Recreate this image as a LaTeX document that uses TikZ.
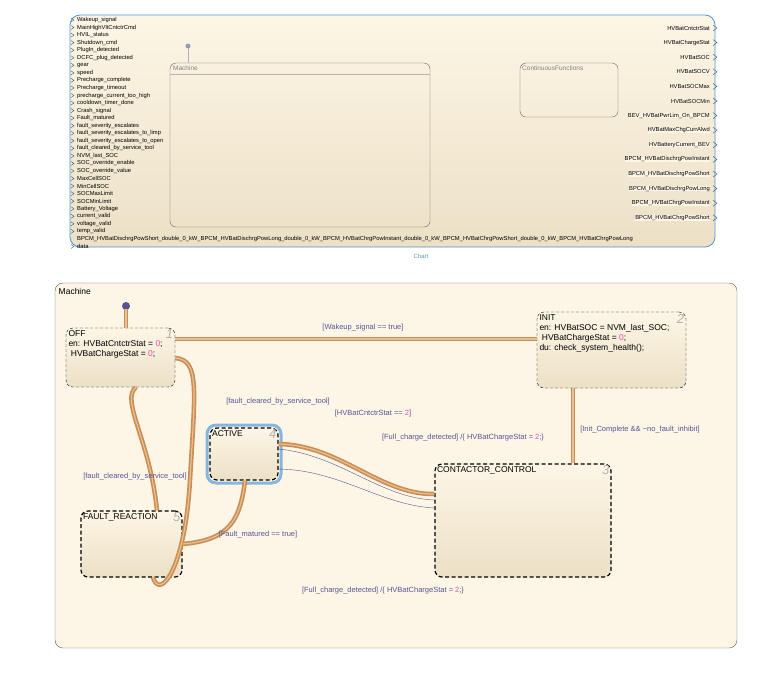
\documentclass[tikz,border=0pt]{standalone}
\usepackage{fontspec}
\setmainfont{Liberation Sans}
\usetikzlibrary{arrows,positioning}
\definecolor{cream}{RGB}{253,246,230}
\definecolor{creamdk}{RGB}{236,224,198}
\definecolor{trans}{RGB}{205,140,80}
\definecolor{glbl}{RGB}{85,85,150}
\definecolor{chartblue}{RGB}{80,150,210}
\tikzset{
  state/.style={draw=black,densely dashed,rounded corners=7pt,top color=cream,bottom color=creamdk},
  substate/.style={draw=black,very thick,dash pattern=on 4pt off 2.5pt,rounded corners=7pt,top color=cream,bottom color=creamdk},
  guard/.style={text=glbl,font=\fontsize{7.5}{8}\selectfont},
  body/.style={anchor=north west,align=left,font=\fontsize{8.5}{10}\selectfont,inner sep=2.5pt},
  num/.style={anchor=north east,text=gray!60,font=\fontsize{13}{13}\selectfont\itshape,inner sep=2pt},
  tr/.style={draw=trans,line width=4.5pt},
  trc/.style={draw=cream!50!trans,line width=1.2pt},
  port/.style={font=\fontsize{5.8}{6}\selectfont,inner sep=0pt},
}
\newcommand{\orange}[1]{\draw[tr] #1; \draw[trc] #1;}
\begin{document}
\begin{tikzpicture}[x=1pt,y=-1pt]
\useasboundingbox (0,0) rectangle (778,697);
% chart block
\draw[chartblue,thick,rounded corners=10pt,top color=cream,bottom color=creamdk] (70,15) rectangle (715,247);
\node[text=chartblue,font=\fontsize{6}{7}\selectfont] (chartlbl) at (421,256) {Chart};
\foreach \i/\s in {0/Wakeup\_signal,1/MainHighVltCntctrCmd,2/HVIL\_status,3/Shutdown\_cmd,
  4/PlugIn\_detected,5/DCFC\_plug\_detected,6/gear,7/speed,8/Precharge\_complete,
  9/Precharge\_timeout,10/precharge\_current\_too\_high,11/cooldown\_timer\_done,12/Crash\_signal,
  13/Fault\_matured,14/fault\_severity\_escalates,15/fault\_severity\_escalates\_to\_limp,
  16/fault\_severity\_escalates\_to\_open,17/fault\_cleared\_by\_service\_tool,18/NVM\_last\_SOC,
  19/SOC\_override\_enable,20/SOC\_override\_value,21/MaxCellSOC,22/MinCellSOC,23/SOCMaxLimit,
  24/SOCMinLimit,25/Battery\_Voltage,26/current\_valid,27/voltage\_valid,28/temp\_valid,30/data} {
  \node[port,anchor=west] (in\i) at (77,{20+7.55*\i}) {\s};
  \draw[chartblue!60!black,thin] (71,{18+7.55*\i}) -- (74,{20+7.55*\i}) -- (71,{22+7.55*\i});
}
\node[port,anchor=west] (in29) at (77,239) {BPCM\_HVBatDischrgPowShort\_double\_0\_kW\_BPCM\_HVBatDischrgPowLong\_double\_0\_kW\_BPCM\_HVBatChrgPowInstant\_double\_0\_kW\_BPCM\_HVBatChrgPowShort\_double\_0\_kW\_BPCM\_HVBatChrgPowLong};
\foreach \i/\s in {0/HVBatCntctrStat,1/HVBatChargeStat,2/HVBatSOC,3/HVBatSOCV,4/HVBatSOCMax,
  5/HVBatSOCMin,6/BEV\_HVBatPwrLim\_On\_BPCM,7/HVBatMaxChgCurrAlwd,8/HVBatteryCurrent\_BEV,
  9/BPCM\_HVBatDischrgPowInstant,10/BPCM\_HVBatDischrgPowShort,11/BPCM\_HVBatDischrgPowLong,
  12/BPCM\_HVBatChrgPowInstant,13/BPCM\_HVBatChrgPowShort} {
  \node[port,anchor=east,fill=cream] (out\i) at (710,{28+14.6*\i}) {\s};
  \draw[chartblue!60!black,thin] (713,{25+14.6*\i}) -- (717,{28+14.6*\i}) -- (713,{31+14.6*\i});
}
\draw[gray!80!black,rounded corners=6pt] (170,63) rectangle (430,227);
\node[port,anchor=north west,text=gray,font=\fontsize{6.5}{7}\selectfont] (machsmall) at (173,66) {Machine};
\draw[gray!60] (170,74) -- (430,74);
\fill[glbl!60] (188,46) circle (2.5);
\draw[gray!60] (188,48) -- (188,63);
\draw[gray!80!black,rounded corners=6pt] (520,63) rectangle (618,117);
\node[port,anchor=north west,text=gray,font=\fontsize{6.5}{7}\selectfont] (contsmall) at (522,66) {ContinuousFunctions};
% state machine
\draw[gray!70!black,rounded corners=8pt,fill=cream] (55,283) rectangle (737,648);
\node[body] (machlbl) at (56,286) {Machine};
\node[state,minimum width=109pt,minimum height=59pt] (off) at (120.5,357.5) {};
\node[body] at (off.north west) {OFF\\en: HVBatCntctrStat = \textcolor{magenta!70}{0};\\\ HVBatChargeStat = \textcolor{magenta!70}{0};};
\node[state,minimum width=149pt,minimum height=76pt] (init) at (611.5,350) {};
\node[body] at (init.north west) {INIT\\en: HVBatSOC = NVM\_last\_SOC;\\\ HVBatChargeStat = \textcolor{magenta!70}{0};\\du: check\_system\_health();};
\draw[chartblue!70,line width=3pt,rounded corners=9pt] (207,425) rectangle (281,483);
\node[substate,minimum width=68pt,minimum height=52pt] (active) at (244,454) {};
\node[body] at (active.north west) {ACTIVE};
\node[substate,minimum width=101pt,minimum height=66pt] (fault) at (131.5,544) {};
\node[body] at (fault.north west) {FAULT\_REACTION};
\node[substate,minimum width=176pt,minimum height=113pt] (cc) at (523,520.5) {};
\node[body] at (cc.north west) {CONTACTOR\_CONTROL};
\foreach \n/\k in {off/1,init/2,cc/3,active/4,fault/5}
  \node[num] (num\n) at (\n.north east) {\k};
\fill[glbl] (126,306) circle (4);
\coordinate (dot) at (126,309);
\orange{(dot) -- (off.north -| dot)}
\orange{(off.east |- 0,339) -- (init.west |- 0,339)}
\node[guard] (g1) at (363,328) {[Wakeup\_signal == true]};
\orange{(init.south -| 573,0) -- (cc.north -| 573,0)}
\node[guard] (g2) at (640,430) {[Init\_Complete \&\& \textasciitilde no\_fault\_inhibit]};
\orange{(fault.north -| 157,0) .. controls (150,440) and (120,400) .. (off.south -| 136,0)}
\node[guard] (g3) at (135,477) {[fault\_cleared\_by\_service\_tool]};
\orange{(fault.south -| 153,0) .. controls (160,600) and (185,570) .. (190,480) .. controls (195,390) and (200,360) .. (off.east |- 0,358)}
\node[guard] (g4) at (278,402) {[fault\_cleared\_by\_service\_tool]};
\orange{(active.south -| 245,0) .. controls (240,520) and (230,540) .. (fault.east |- 0,544)}
\node[guard] (g5) at (258,535) {[Fault\_matured == true]};
\orange{(active.east |- 0,444) .. controls (340,445) and (380,495) .. (cc.west |- 0,494)}
\draw[glbl,thin] (active.east |- 0,449) .. controls (340,455) and (380,498) .. (cc.west |- 0,500);
\draw[glbl,thin] (active.east |- 0,469) .. controls (340,470) and (380,505) .. (cc.west |- 0,508);
\node[guard] (g6) at (373,414) {[HVBatCntctrStat == \textcolor{magenta!70}{2}]};
\node[guard] (g7) at (463,438) {[Full\_charge\_detected] /\{ HVBatChargeStat = \textcolor{magenta!70}{2};\}};
\node[guard] (g8) at (383,591) {[Full\_charge\_detected] /\{ HVBatChargeStat = \textcolor{magenta!70}{2};\}};
\end{tikzpicture}
\end{document}
